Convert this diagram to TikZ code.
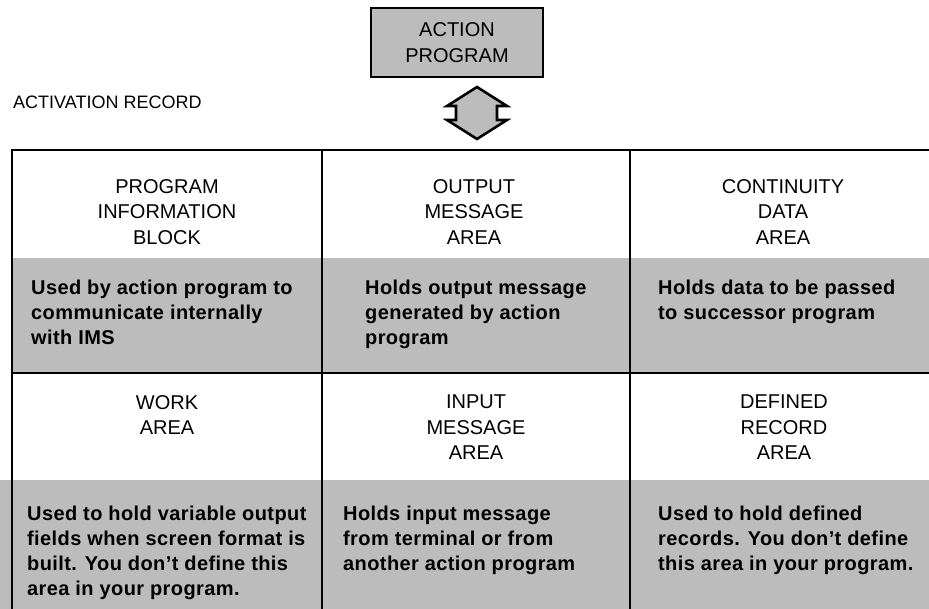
\documentclass[tikz,border=0pt]{standalone}
\usepackage{fontspec}
\setmainfont{Liberation Sans}
\newfontfamily\bodyfont[LetterSpace=2]{Liberation Sans}
\definecolor{halftone}{RGB}{188,188,188}
\tikzset{
  rule/.style={line width=2pt, black},
  band/.style={fill=halftone, draw=none},
  headtext/.style={anchor=north, inner sep=0pt, align=center,
    font=\fontsize{20}{25.5}\selectfont},
  bodytext/.style={anchor=north west, inner sep=0pt, align=left,
    font=\bodyfont\bfseries\fontsize{20}{25}\selectfont},
  progbox/.style={draw=black, line width=2pt, fill=halftone,
    minimum width=172pt, minimum height=69pt, align=center, inner sep=0pt,
    font=\fontsize{20}{26}\selectfont},
  dblarrow/.style={draw=black, line width=2.6pt, fill=halftone, line join=miter}
}
\begin{document}
\begin{tikzpicture}[x=1pt, y=-1pt]
\useasboundingbox (0,0) rectangle (929,609);

% program that owns the activation record
\node[progbox] (prog) at (457,42.5) {ACTION\\PROGRAM};

% two-way exchange between the program and the record
\coordinate (up) at (477,87);
\coordinate (down) at (477,139);
\draw[dblarrow] (up) -- (507,106) -- (497,106) -- (497,120) -- (507,120)
  -- (down) -- (447,120) -- (456,120) -- (456,106) -- (447,106) -- cycle;

\node[anchor=base west, inner sep=0pt, font=\fontsize{18}{20}\selectfont]
  (title) at (13,109) {ACTIVATION RECORD};

% shaded description bands
\fill[band] (12,258) rectangle (929,373);
\fill[band] (0,480) rectangle (929,609);

% table grid
\draw[rule] (12,609) -- (12,150) -- (929,150);
\draw[rule] (12,373) -- (929,373);
\draw[rule] (322,150) -- (322,609);
\draw[rule] (630,150) -- (630,609);

% first row
\node[headtext] (pibh) at (167,179) {PROGRAM\\INFORMATION\\BLOCK};
\node[headtext] (omah) at (474,179) {OUTPUT\\MESSAGE\\AREA};
\node[headtext] (cdah) at (783,179) {CONTINUITY\\DATA\\AREA};

\node[bodytext] (pibb) at (31,280) {Used by action program to\\communicate internally\\with IMS};
\node[bodytext] (omab) at (365,280) {Holds output message\\generated by action\\program};
\node[bodytext] (cdab) at (658,280) {Holds data to be passed\\to successor program};

% second row
\node[headtext] (wah) at (167,395) {WORK\\AREA};
\node[headtext] (imah) at (476,395) {INPUT\\MESSAGE\\AREA};
\node[headtext] (drah) at (784,395) {DEFINED\\RECORD\\AREA};

\node[bodytext] (wab) at (27,506) {Used to hold variable output\\fields when screen format is\\built. You don’t define this\\area in your program.};
\node[bodytext] (imab) at (343,506) {Holds input message\\from terminal or from\\another action program};
\node[bodytext] (drab) at (658,506) {Used to hold defined\\records. You don’t define\\this area in your program.};
\end{tikzpicture}
\end{document}
